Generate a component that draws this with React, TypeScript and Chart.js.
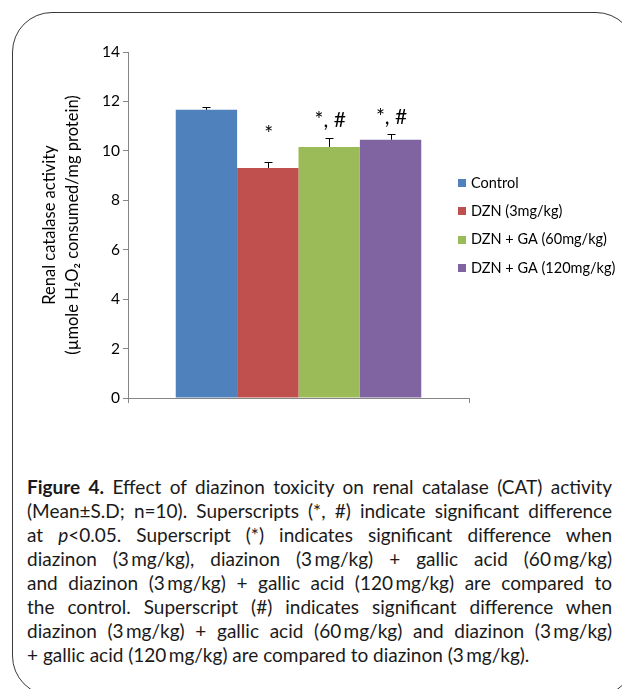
import React, { useEffect, useRef } from "react";
import { Chart, registerables } from "chart.js";

Chart.register(...registerables);

// ---- data ----
const groups = ["Control", "DZN (3mg/kg)", "DZN + GA (60mg/kg)", "DZN + GA (120mg/kg)"];
const means = [11.66, 9.31, 10.16, 10.45];
const sds = [0.1, 0.24, 0.36, 0.22];
const marks = ["", "*", "*, #", "*, #"];
const markLevels = [0, 10.4, 10.97, 11.1];
const colors = ["#4F81BD", "#C0504D", "#9BBB59", "#8064A2"];
const yMin = 0;
const yMax = 14;
const yStep = 2;
const yTitle = ["Renal catalase activity", "(\u00B5mole H\u2082O\u2082 consumed/mg protein)"];

const captionLines: React.ReactNode[] = [
  <>
    <b>Figure 4.</b> Effect of diazinon toxicity on renal catalase (CAT) activity
  </>,
  <>(Mean±S.D; n=10). Superscripts (*, #) indicate significant difference</>,
  <>
    at <i>p</i>&lt;0.05. Superscript (*) indicates significant difference when
  </>,
  <>diazinon (3{"\u2009"}mg/kg), diazinon (3{"\u2009"}mg/kg) + gallic acid (60{"\u2009"}mg/kg)</>,
  <>and diazinon (3{"\u2009"}mg/kg) + gallic acid (120{"\u2009"}mg/kg) are compared to</>,
  <>the control. Superscript (#) indicates significant difference when</>,
  <>diazinon (3{"\u2009"}mg/kg) + gallic acid (60{"\u2009"}mg/kg) and diazinon (3{"\u2009"}mg/kg)</>,
  <>+ gallic acid (120{"\u2009"}mg/kg) are compared to diazinon (3{"\u2009"}mg/kg).</>,
];

const FONT = "Lato, 'Open Sans', sans-serif";

const errorBarPlugin = {
  id: "errorBars",
  afterDatasetsDraw(chart: any) {
    const ctx = chart.ctx;
    const y = chart.scales.y;
    ctx.save();
    ctx.strokeStyle = "#000";
    ctx.lineWidth = 1;
    chart.data.datasets.forEach((_: any, i: number) => {
      const meta = chart.getDatasetMeta(i);
      const bar = meta.data[0];
      if (!bar) return;
      const x = Math.round(bar.x) + 0.5;
      const top = Math.round(y.getPixelForValue(means[i] + sds[i])) + 0.5;
      ctx.beginPath();
      ctx.moveTo(x, bar.y);
      ctx.lineTo(x, top);
      ctx.moveTo(x - 4, top);
      ctx.lineTo(x + 4, top);
      ctx.stroke();
      if (marks[i]) {
        ctx.fillStyle = "#000";
        ctx.font = `21px ${FONT}`;
        ctx.textAlign = "center";
        ctx.textBaseline = "alphabetic";
        ctx.fillText(marks[i], bar.x + 1, y.getPixelForValue(markLevels[i]));
      }
    });
    ctx.restore();
  },
};

const legendPlugin = {
  id: "sideLegend",
  afterDraw(chart: any) {
    const ctx = chart.ctx;
    ctx.save();
    ctx.font = `14.5px ${FONT}`;
    ctx.textBaseline = "middle";
    ctx.textAlign = "left";
    chart.data.datasets.forEach((ds: any, i: number) => {
      const cy = 183 + i * 28.4;
      ctx.fillStyle = ds.backgroundColor;
      ctx.fillRect(458, Math.round(cy - 4), 8, 8);
      ctx.fillStyle = "#000";
      ctx.fillText(ds.label, 471, cy);
    });
    ctx.restore();
  },
};

function BarChart() {
  const ref = useRef<HTMLCanvasElement | null>(null);
  useEffect(() => {
    if (!ref.current) return;
    const chart = new Chart(ref.current, {
      type: "bar",
      data: {
        labels: [""],
        datasets: groups.map((g, i) => ({
          label: g,
          data: [means[i]],
          backgroundColor: colors[i],
          borderWidth: 0,
          categoryPercentage: 0.72,
          barPercentage: 1,
        })),
      },
      options: {
        responsive: false,
        animation: false,
        devicePixelRatio: 1,
        layout: { padding: { left: 0, top: 52, right: 153, bottom: 0 } },
        plugins: {
          legend: { display: false },
          tooltip: { enabled: false },
        },
        scales: {
          x: {
            type: "category",
            grid: {
              drawOnChartArea: false,
              offset: true,
              tickLength: 5,
              color: "#868686",
            },
            border: { color: "#868686", width: 1 },
            ticks: { display: false },
            afterFit(scale: any) {
              scale.height = 32;
            },
          },
          y: {
            min: yMin,
            max: yMax,
            ticks: {
              stepSize: yStep,
              color: "#000",
              font: { family: FONT, size: 15.5 },
              padding: 3,
            },
            grid: {
              drawOnChartArea: false,
              tickLength: 5,
              color: "#868686",
            },
            border: { color: "#868686", width: 1 },
            title: {
              display: true,
              text: yTitle,
              color: "#000",
              font: { family: FONT, size: 16.5, lineHeight: 1.4 },
              padding: { top: 38.5, bottom: 0 },
            },
            afterFit(scale: any) {
              scale.width = 128;
            },
          },
        },
      },
      plugins: [errorBarPlugin, legendPlugin],
    } as any);
    return () => chart.destroy();
  }, []);
  return (
    <canvas
      ref={ref}
      width={622}
      height={430}
      style={{ position: "absolute", left: 0, top: 0, width: 622, height: 430 }}
    />
  );
}

export default function App() {
  return (
    <div
      style={{
        position: "fixed",
        left: 0,
        top: 0,
        width: 622,
        height: 689,
        overflow: "hidden",
        background: "#fff",
      }}
    >
      <div
        style={{
          position: "absolute",
          left: 12,
          top: 12,
          width: 624,
          height: 684,
          border: "1.4px solid #3a3a3a",
          borderRadius: 40,
          boxSizing: "border-box",
        }}
      />
      <BarChart />
      <div
        style={{
          position: "absolute",
          left: 27,
          top: 475,
          width: 585,
          fontFamily: FONT,
          fontSize: 19,
          lineHeight: "24px",
          color: "#1a1a1a",
        }}
      >
        {captionLines.map((ln, i) => (
          <div
            key={i}
            style={{
              textAlign: i === captionLines.length - 1 ? "left" : "justify",
              textAlignLast: i === captionLines.length - 1 ? "left" : "justify",
              whiteSpace: "nowrap",
            }}
          >
            {ln}
          </div>
        ))}
      </div>
    </div>
  );
}
